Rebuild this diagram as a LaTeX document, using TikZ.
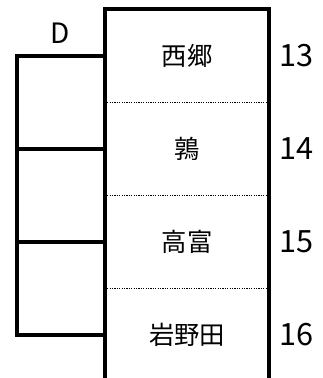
\documentclass[tikz,border=0pt]{standalone}
\usepackage{fontspec}
\setmainfont{Noto Sans CJK JP}

\begin{document}
\begin{tikzpicture}[x=0.75pt,y=-0.75pt]
                \tikzset{Cell/.style={%
                    shape=rectangle,%
                    minimum width=123pt,%
                    minimum height=69.75pt,%
                    inner sep=0pt,%
                    font=\fontsize{19}{19}\selectfont,%
                    node distance=69.75pt,%
                }}
                \tikzset{Num/.style={%
                    anchor=west,%
                    inner sep=0pt,%
                    font=\fontsize{23}{23}\selectfont,%
                }}
                \tikzset{Line/.style={line width=2.7pt}}
                \tikzset{Divide/.style={dash pattern=on 0.9pt off 0.9pt, line width=0.9pt}}

                \useasboundingbox (0,0) rectangle (323,378);

                \node[Cell] (c13) at (187,56) {西郷};
                \node[Cell, below of=c13] (c14) {鶉};
                \node[Cell, below of=c14] (c15) {高富};
                \node[Cell, below of=c15] (c16) {岩野田};

                \node[Num] (n13) at ([xshift=7.5pt]c13.east) {13};
                \node[Num] (n14) at ([xshift=7.5pt]c14.east) {14};
                \node[Num] (n15) at ([xshift=7.5pt]c15.east) {15};
                \node[Num] (n16) at ([xshift=7.5pt]c16.east) {16};

                \coordinate (b13) at (17,56);
                \node[font=\fontsize{21}{21}\selectfont] (lblD) at (60,33) {D};

                \draw[Line] (c16.south west) -- (c13.north west) -- (c13.north east) -- (c16.south east);
                \draw[Divide] (c13.south west) -- (c13.south east);
                \draw[Divide] (c14.south west) -- (c14.south east);
                \draw[Divide] (c15.south west) -- (c15.south east);

                \draw[Line] (c13.west) -- (b13) -- (b13 |- c16.west) -- (c16.west);
                \draw[Line] (b13 |- c14.west) -- (c14.west);
                \draw[Line] (b13 |- c15.west) -- (c15.west);
            \end{tikzpicture}
\end{document}
